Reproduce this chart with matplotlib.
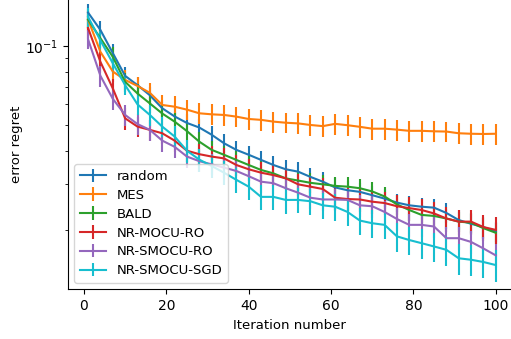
import numpy as np
import matplotlib
matplotlib.use("Agg")
import matplotlib.pyplot as plt
from matplotlib.ticker import NullFormatter

# iterations where values were read (every 3rd iteration)
iters = [1, 4, 7, 10, 13, 16, 19, 22, 25, 28, 31, 34, 37, 40, 43, 46, 49, 52,
         55, 58, 61, 64, 67, 70, 73, 76, 79, 82, 85, 88, 91, 94, 97, 100]

random_err = [0.134, 0.115, 0.094, 0.077, 0.071, 0.065, 0.058, 0.054, 0.051, 0.049,
              0.046, 0.0427, 0.0403, 0.0386, 0.0369, 0.0353, 0.034, 0.0333, 0.0318,
              0.0305, 0.029, 0.0283, 0.0279, 0.0271, 0.0263, 0.0254, 0.0248, 0.0245,
              0.0243, 0.0232, 0.0218, 0.0211, 0.0205, 0.0197]
mes = [0.126, 0.095, 0.080, 0.0743, 0.0705, 0.0664, 0.0597, 0.0588, 0.0573, 0.0555,
       0.055, 0.0547, 0.0539, 0.0528, 0.0524, 0.0516, 0.0511, 0.0508, 0.0501, 0.0496,
       0.0506, 0.0500, 0.0493, 0.0485, 0.0485, 0.0481, 0.0476, 0.0476, 0.0474, 0.0473,
       0.0466, 0.0464, 0.0463, 0.0464]
bald = [0.126, 0.107, 0.091, 0.0731, 0.066, 0.0605, 0.0554, 0.0516, 0.0475, 0.0433,
        0.0403, 0.0386, 0.0369, 0.0353, 0.0338, 0.0328, 0.0314, 0.0308, 0.0302, 0.0298,
        0.0294, 0.0292, 0.0288, 0.0280, 0.0268, 0.0250, 0.0238, 0.0228, 0.0226, 0.0221,
        0.0215, 0.0213, 0.0203, 0.0195]
mocu_ro = [0.117, 0.087, 0.069, 0.0531, 0.0494, 0.048, 0.0466, 0.0437, 0.040, 0.0388,
           0.038, 0.0374, 0.0353, 0.034, 0.033, 0.0323, 0.0314, 0.0298, 0.0292, 0.0286,
           0.0265, 0.0262, 0.0261, 0.0256, 0.0253, 0.0246, 0.0242, 0.0238, 0.0231, 0.0221,
           0.0215, 0.0215, 0.0205, 0.020]
smocu_ro = [0.106, 0.077, 0.063, 0.0547, 0.0505, 0.048, 0.0437, 0.0414, 0.038, 0.0365,
            0.0355, 0.0345, 0.0335, 0.032, 0.0305, 0.0301, 0.0288, 0.0277, 0.0265, 0.0261,
            0.0261, 0.026, 0.0248, 0.0246, 0.0234, 0.0220, 0.0209, 0.0209, 0.0206, 0.0186,
            0.0186, 0.018, 0.017, 0.016]
smocu_sgd = [0.129, 0.105, 0.086, 0.071, 0.060, 0.0547, 0.0494, 0.0453, 0.040, 0.037,
             0.035, 0.033, 0.031, 0.0292, 0.0267, 0.0267, 0.026, 0.026, 0.0257, 0.0248,
             0.0245, 0.0234, 0.0217, 0.0212, 0.0209, 0.0189, 0.0183, 0.0178, 0.0173, 0.0168,
             0.0156, 0.0154, 0.0151, 0.0147]

# error bar half lengths
random_sd = [0.010, 0.009, 0.008, 0.006, 0.005, 0.005, 0.0045, 0.004, 0.004, 0.004,
             0.0038, 0.0035, 0.0033, 0.003, 0.003, 0.003, 0.0028, 0.0028, 0.0027, 0.0026,
             0.0025, 0.0024, 0.0023, 0.0022, 0.0022, 0.0021, 0.0021, 0.002, 0.002, 0.002,
             0.0019, 0.0018, 0.0018, 0.0017]
mes_sd = [0.012, 0.009, 0.007, 0.0065, 0.006, 0.006, 0.0055, 0.0055, 0.005, 0.005,
          0.005, 0.005, 0.0048, 0.0048, 0.0047, 0.0047, 0.0046, 0.0046, 0.0045, 0.0045,
          0.0046, 0.0045, 0.0045, 0.0044, 0.0044, 0.0044, 0.0043, 0.0043, 0.0043, 0.0043,
          0.0042, 0.0042, 0.0042, 0.0042]
bald_sd = [0.010, 0.009, 0.008, 0.006, 0.0055, 0.005, 0.0045, 0.0042, 0.004, 0.0037,
           0.0034, 0.0032, 0.003, 0.003, 0.0028, 0.0028, 0.0027, 0.0026, 0.0026, 0.0025,
           0.0025, 0.0025, 0.0024, 0.0024, 0.0023, 0.0022, 0.0021, 0.002, 0.002, 0.002,
           0.0019, 0.0019, 0.0018, 0.0018]
mocu_ro_sd = [0.010, 0.008, 0.006, 0.005, 0.0045, 0.0045, 0.0042, 0.004, 0.0037, 0.0036,
              0.0035, 0.0034, 0.0033, 0.0032, 0.0031, 0.003, 0.003, 0.0029, 0.0028, 0.0028,
              0.0027, 0.0027, 0.0027, 0.0026, 0.0026, 0.0026, 0.0025, 0.0025, 0.0025, 0.0024,
              0.0024, 0.0024, 0.0023, 0.0023]
smocu_ro_sd = [0.009, 0.007, 0.006, 0.005, 0.0045, 0.0043, 0.004, 0.0038, 0.0035, 0.0034,
               0.0033, 0.0032, 0.003, 0.003, 0.0028, 0.0028, 0.0027, 0.0026, 0.0025, 0.0025,
               0.0025, 0.0025, 0.0024, 0.0024, 0.0023, 0.0022, 0.0021, 0.0021, 0.002, 0.0019,
               0.0019, 0.0018, 0.0018, 0.0017]
smocu_sgd_sd = [0.011, 0.009, 0.007, 0.006, 0.0055, 0.005, 0.0045, 0.0042, 0.004, 0.0037,
                0.0035, 0.0034, 0.0033, 0.0032, 0.003, 0.003, 0.003, 0.0029, 0.0029, 0.0028,
                0.0028, 0.0027, 0.0026, 0.0026, 0.0025, 0.0024, 0.0023, 0.0023, 0.0022, 0.0022,
                0.0021, 0.0021, 0.002, 0.002]

labels = ['random', 'MES', 'BALD', 'NR-MOCU-RO', 'NR-SMOCU-RO', 'NR-SMOCU-SGD']
colors = ['#1f77b4', '#ff7f0e', '#2ca02c', '#d62728', '#9467bd', '#17becf']
series = [random_err, mes, bald, mocu_ro, smocu_ro, smocu_sgd]
errors = [random_sd, mes_sd, bald_sd, mocu_ro_sd, smocu_ro_sd, smocu_sgd_sd]

plt.rcParams['font.size'] = 9.5
plt.rcParams['xtick.labelsize'] = 10
plt.rcParams['ytick.labelsize'] = 10

fig = plt.figure(figsize=(5.11, 3.39), dpi=100)
ax = fig.add_axes([0.1325, 0.1466, 0.8675, 0.8534])

for y, e, lab, c in zip(series, errors, labels, colors):
    ax.errorbar(iters, y, yerr=e, label=lab, color=c, lw=1.5)

ax.set_yscale('log')
ax.set_xlim(-3.95, 103.7)
ax.set_ylim(0.01189, 0.1496)
ax.yaxis.set_minor_formatter(NullFormatter())
ax.set_xticks([0, 20, 40, 60, 80, 100])
ax.spines['top'].set_visible(False)
ax.spines['right'].set_visible(False)
ax.set_xlabel('Iteration number')
ax.set_ylabel('error regret', labelpad=1.5)
ax.legend(loc='lower left', labelspacing=0.45)

fig.savefig('out.png', dpi=100)
